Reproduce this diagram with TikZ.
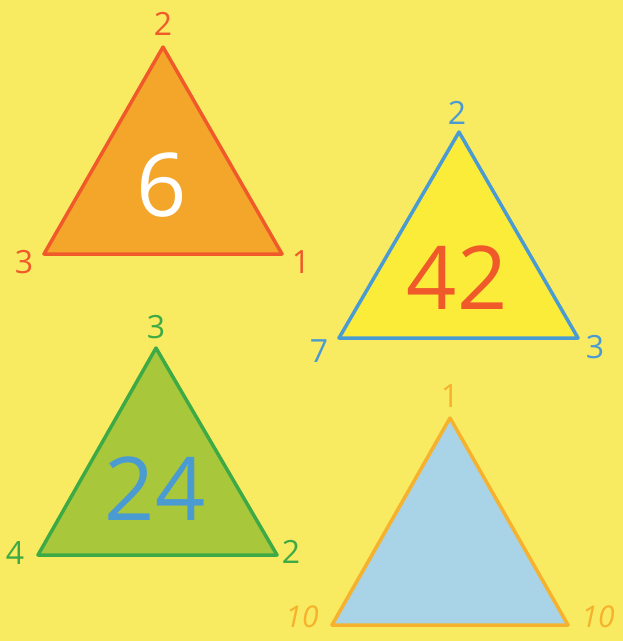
\documentclass[tikz,border=0pt]{standalone}
\usepackage{fontspec}
\setmainfont{Open Sans}
\definecolor{bg}{HTML}{F8EB62}
\definecolor{orfill}{HTML}{F4A62A}
\definecolor{orline}{HTML}{F05A2A}
\definecolor{yefill}{HTML}{FBEC3A}
\definecolor{blline}{HTML}{4A9BD2}
\definecolor{grfill}{HTML}{A9C73A}
\definecolor{grline}{HTML}{3DAA45}
\definecolor{lbfill}{HTML}{A9D3E6}
\definecolor{goline}{HTML}{F6B22C}
\tikzset{
  tri/.style={line width=3.5pt, line join=round},
  lab/.style={font=\fontsize{32}{32}\selectfont, inner sep=0pt},
  big/.style={font=\fontsize{88}{88}\selectfont, inner sep=0pt},
}
\begin{document}
\begin{tikzpicture}[x=1pt,y=-1pt]
\fill[bg] (0,0) rectangle (623,641);
\useasboundingbox (0,0) rectangle (623,641);
% triangle 1
\coordinate (t1a) at (163,47);
\coordinate (t1b) at (44,254);
\coordinate (t1c) at (282,254);
\draw[tri, orline, fill=orfill] (t1a)--(t1b)--(t1c)--cycle;
\node[lab, orline] (l1a) at (163,24) {2};
\node[lab, orline] (l1b) at (24,262) {3};
\node[lab, orline] (l1c) at (301,262) {1};
\node[big, white] (n1) at (162,185) {6};
% triangle 2
\coordinate (t2a) at (459,132);
\coordinate (t2b) at (339,338);
\coordinate (t2c) at (578,338);
\draw[tri, blline, fill=yefill] (t2a)--(t2b)--(t2c)--cycle;
\node[lab, blline] (l2a) at (457,113) {2};
\node[lab, blline] (l2b) at (319,351) {7};
\node[lab, blline] (l2c) at (595,347) {3};
\node[big, orline] (n2) at (457,278) {42};
% triangle 3
\coordinate (t3a) at (156,348);
\coordinate (t3b) at (38,555);
\coordinate (t3c) at (277,555);
\draw[tri, grline, fill=grfill] (t3a)--(t3b)--(t3c)--cycle;
\node[lab, grline] (l3a) at (156,327) {3};
\node[lab, grline] (l3b) at (15,553) {4};
\node[lab, grline] (l3c) at (291,552) {2};
\node[big, blline] (n3) at (155,489) {24};
% triangle 4
\coordinate (t4a) at (450,418);
\coordinate (t4b) at (332,625);
\coordinate (t4c) at (568,625);
\draw[tri, goline, fill=lbfill] (t4a)--(t4b)--(t4c)--cycle;
\node[lab, goline] (l4a) at (450,396) {1};
\node[lab, goline, font=\fontsize{30}{30}\selectfont\itshape] (l4b) at (302,617) {10};
\node[lab, goline, font=\fontsize{30}{30}\selectfont\itshape] (l4c) at (598,617) {10};
\end{tikzpicture}
\end{document}
